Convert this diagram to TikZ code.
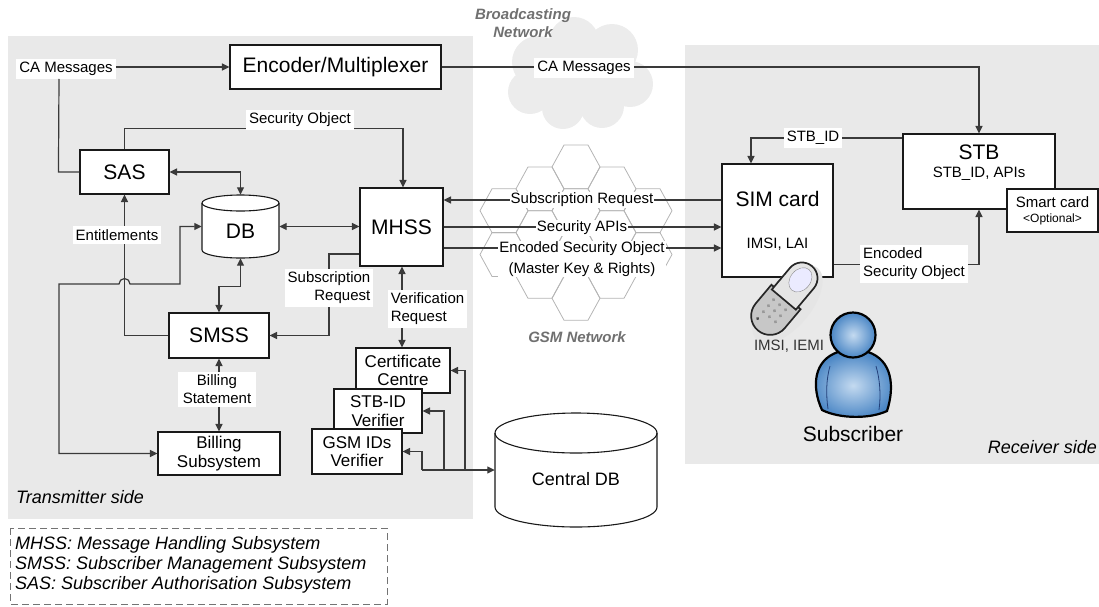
\documentclass[tikz,border=0pt]{standalone}
\usepackage{fontspec}
\setmainfont{Liberation Sans}
\usetikzlibrary{arrows.meta,calc}
\definecolor{panel}{HTML}{E9E9E9}
\definecolor{cloudgray}{HTML}{ECECEC}
\definecolor{wire}{HTML}{3A3A3A}
\definecolor{hexline}{HTML}{B4B4B4}
\definecolor{netgray}{HTML}{707070}
\definecolor{personblue}{HTML}{4A86C5}
\definecolor{personlight}{HTML}{C4DAF0}
\definecolor{personline}{HTML}{23407A}
\begin{document}
\begin{tikzpicture}[x=1pt,y=-1pt,
  font=\fontsize{15}{18}\selectfont,
  box/.style={draw=black!90, fill=white, line width=1.1pt, inner sep=0pt, align=center},
  wire/.style={draw=wire, line width=1.2pt},
  tipend/.style={-{Triangle[length=7.5pt,width=7pt]}},
  tipboth/.style={{Triangle[length=7.5pt,width=7pt]}-{Triangle[length=7.5pt,width=7pt]}},
  tipstart/.style={{Triangle[length=7.5pt,width=7pt]}-},
  lbl/.style={fill=white, inner sep=3pt, align=center},
  tightlbl/.style={fill=white, inner sep=1pt, align=center},
  big/.style={font=\fontsize{21}{25}\selectfont},
  mid/.style={font=\fontsize{17}{18.5}\selectfont},
  small/.style={font=\fontsize{15}{18}\selectfont},
  note/.style={font=\fontsize{18}{20}\selectfont\itshape},
  net/.style={font=\fontsize{15}{18}\selectfont\bfseries\itshape, text=netgray},
  hex/.style={draw=hexline, line width=0.8pt},
]
\useasboundingbox (0,0) rectangle (1099,606);

% side panels
\fill[panel] (8,36) rectangle (473,519);
\fill[panel] (685,45) rectangle (1099,464);

% broadcasting network cloud, built from overlapping puffs
\fill[cloudgray] (580,74) ellipse[x radius=48pt, y radius=40pt]
  (538,62) circle[radius=26pt] (574,42) circle[radius=25pt] (612,50) circle[radius=26pt]
  (630,84) circle[radius=23pt] (602,106) circle[radius=22pt] (563,108) circle[radius=21pt]
  (530,92) circle[radius=22pt];
\node[net, align=center] (bnet) at (523,23) {Broadcasting\\Network};

% GSM network honeycomb
\foreach \cx/\cy in {576/166.9, 576/210.7, 576/254.5, 576/298.3,
                     540/188.8, 540/232.6, 540/276.4,
                     612/188.8, 612/232.6, 612/276.4,
                     504/210.7, 504/254.5, 648/210.7, 648/254.5}
  \draw[hex] (\cx-24,\cy) -- (\cx-12,\cy-21.9) -- (\cx+12,\cy-21.9) -- (\cx+24,\cy)
             -- (\cx+12,\cy+21.9) -- (\cx-12,\cy+21.9) -- cycle;
\node[net] (gnet) at (577,337) {GSM Network};

% databases
\path[box] (202,203) -- (202,250) arc[start angle=180, end angle=360, x radius=38.5pt, y radius=8pt]
  -- (279,203) arc[start angle=0, end angle=180, x radius=38.5pt, y radius=8pt] -- cycle;
\draw[draw=black!90, line width=1.1pt] (202,203) arc[start angle=180, end angle=360, x radius=38.5pt, y radius=8pt];
\node[minimum width=77pt, minimum height=63pt, inner sep=0pt] (db) at (240.5,226.5) {};
\node[big] (dbtxt) at (240.5,231) {DB};

\path[box] (495,433) -- (495,507) arc[start angle=180, end angle=360, x radius=81pt, y radius=20pt]
  -- (657,433) arc[start angle=0, end angle=180, x radius=81pt, y radius=20pt] -- cycle;
\draw[draw=black!90, line width=1.1pt] (495,433) arc[start angle=180, end angle=360, x radius=81pt, y radius=20pt];
\node[minimum width=162pt, minimum height=114pt, inner sep=0pt] (cdb) at (576,470) {};
\node[font=\fontsize{18}{21}\selectfont] (cdbtxt) at (576,479) {Central DB};

% transmitter side blocks
\node[box, big, minimum width=211pt, minimum height=44pt] (enc) at (335.5,67) {Encoder/Multiplexer};
\node[box, big, minimum width=89pt, minimum height=44pt] (sas) at (124.5,172) {SAS};
\node[box, big, minimum width=83pt, minimum height=78pt] (mhss) at (401.5,227) {MHSS};
\node[box, big, minimum width=100pt, minimum height=45pt] (smss) at (219,335.5) {SMSS};
\node[box, mid, minimum width=122pt, minimum height=43pt] (bill) at (219,453.5) {Billing\\Subsystem};
\node[box, mid, minimum width=94pt, minimum height=45pt] (cert) at (403,370.5) {Certificate\\Centre};
\node[box, mid, minimum width=88pt, minimum height=44pt] (stbv) at (378,411) {STB-ID\\Verifier};
\node[box, mid, minimum width=90pt, minimum height=45pt] (gsmv) at (357,451.5) {GSM IDs\\Verifier};

% receiver side blocks
\node[box, minimum width=111pt, minimum height=113pt] (sim) at (777.5,220.5) {};
\node[big] (simname) at (777.5,199) {SIM card};
\node[small] (simid) at (777.5,244) {IMSI, LAI};
\node[box, minimum width=152pt, minimum height=75pt] (stb) at (979,171.5) {};
\node[big] (stbname) at (979,152) {STB};
\node[small] (stbid) at (979,174) {STB\_ID, APIs};
\node[box, minimum width=91pt, minimum height=43pt] (smart) at (1052.5,210.5) {};
\node[small] (smartname) at (1052.5,202) {Smart card};
\node[font=\fontsize{12}{14}\selectfont] (smartopt) at (1052.5,219) {\textless Optional\textgreater};

% connectors on the transmitter side
\node[lbl] (cam1) at (66,69) {CA Messages};
\draw[wire, tipend] (cam1.east |- enc.west) -- (enc.west);
\draw[wire] (sas.west) -- ++(-21,0) -- ([xshift=-7pt]cam1.south);
\draw[wire, tipend] (sas.north) -- ++(0,-21) -| ([xshift=1.5pt]mhss.north);
\node[lbl] (secobj) at (300,120) {Security Object};
\draw[wire, tipboth] (sas.east) -| (db.north);
\draw[wire, tipboth] (db.east) -- (db.east -| mhss.west);
\draw[wire, tipboth] (db.south) |- ([yshift=26pt]smss.north) -- (smss.north);
\draw[wire, tipend] (smss.west) -| (sas.south);
\node[lbl] (entl) at (117,235) {Entitlements};
\draw[wire, tipboth] (db.west) -| (180,284) -- (130,284) arc[start angle=0, end angle=180, radius=5.5pt]
  -- (59,284) |- (bill.west);
\draw[wire, tipboth] (smss.south) -- (bill.north);
\node[lbl, inner xsep=5pt] (billst) at (217,389) {Billing\\Statement};
\coordinate (srbend) at (329,254);
\draw[wire, tipend] ($(mhss.west)+(0,27)$) -- (srbend) |- (smss.east);
\node[lbl, align=right] (subreq) at (329,288) {Subscription\\Request};
\draw[wire, tipboth] ([xshift=0.5pt]mhss.south) -- ([xshift=0.5pt]mhss.south |- cert.north);
\node[lbl, align=left] (verreq) at (427.5,308.5) {Verification\\Request};

% central database links
\coordinate (j1) at (422,470);
\coordinate (j2) at (444,470);
\coordinate (j3) at (465,470);
\draw[wire, tipend] (j1) -- (cdb.west);
\draw[wire, tipend] (j1) |- (gsmv.east);
\draw[wire, tipend] (j2) |- (stbv.east);
\draw[wire, tipend] (j3) |- (cert.east);

% links across the GSM network
\coordinate (m1) at ($(mhss.east)+(0,-27)$);
\coordinate (m3) at ($(mhss.east)+(0,21)$);
\draw[wire, tipstart] (m1) -- (m1 -| sim.west);
\draw[wire, tipend] (mhss.east) -- (mhss.east -| sim.west);
\draw[wire, tipend] (m3) -- (m3 -| sim.west);
\node[tightlbl] (lsubreq) at (582,200) {Subscription Request};
\node[tightlbl] (lsecapi) at (582,228) {Security APIs};
\node[tightlbl] (lencobj) at (582,259) {Encoded Security Object\\[3pt](Master Key \& Rights)};

% broadcast link and receiver links
\draw[wire, tipend] (enc.east) -| (stb.north);
\node[lbl] (cam2) at (584,68) {CA Messages};
\coordinate (s1) at ($(stb.west)+(0,-33.5)$);
\coordinate (s2) at ($(sim.north)+(-26.5,0)$);
\draw[wire, tipend] (s1) -| (s2);
\node[lbl] (stbidl) at (813,138) {STB\_ID};
\coordinate (e1) at ($(sim.east)+(0,44)$);
\draw[wire, tipend] (e1) -| (stb.south);
\node[lbl, align=left] (encr) at (914,264) {Encoded\\Security Object};

% mobile handset
\begin{scope}[shift={(786,297)}, rotate=-40, scale=1.12]
  \fill[black!10] (5,4) ellipse[x radius=21pt, y radius=42pt];
  \draw[line width=1.7pt, draw=black!85, fill=black!22] (-17,0) -- (-17,22)
    arc[start angle=180, end angle=360, radius=17pt] -- (17,0) -- cycle;
  \draw[line width=1.7pt, draw=black!85, fill=black!10] (-14,3) -- (-14,-22)
    arc[start angle=180, end angle=0, radius=14pt] -- (14,3) -- cycle;
  \draw[draw=black!45, fill=blue!8] (0,-20) ellipse[x radius=9pt, y radius=12pt];
  \foreach \kx in {-7,0,7} \foreach \ky in {9,16,23}
    \fill[black!40] (\kx,\ky) circle[radius=1.6pt];
  \fill[black!70] (-7,31) circle[radius=1.5pt];
\end{scope}
\node[font=\fontsize{15}{18}\selectfont, text=black!80] (imei) at (789,346) {IMSI, IEMI};

% subscriber figure
\shadedraw[inner color=personlight, outer color=personblue, draw=black, line width=2.2pt]
  (822,410) .. controls (811,386) and (814,360) .. (838,352) -- (868,352)
  .. controls (892,360) and (895,386) .. (887,411) .. controls (870,419) and (840,419) .. (822,410) -- cycle;
\draw[personline, line width=0.8pt] (830,366) .. controls (826,380) and (826,395) .. (828,409);
\draw[personline, line width=0.8pt] (876,366) .. controls (880,380) and (881,395) .. (879,410);
\shadedraw[inner color=personlight, outer color=personblue, draw=black, line width=2.2pt]
  (853,335) circle[radius=22.5pt];
\node[big] (subname) at (853,434) {Subscriber};

% side captions and legend
\node[note, anchor=west, inner sep=0pt] (txside) at (16,497) {Transmitter side};
\node[note, anchor=east, inner sep=0pt] (rxside) at (1097,447) {Receiver side};
\draw[draw=black!55, line width=1pt, dash pattern=on 7pt off 4pt] (10,528) rectangle (387,604);
\node[note, anchor=west, align=left, inner sep=0pt] (legend) at (15,565)
  {MHSS: Message Handling Subsystem\\SMSS: Subscriber Management Subsystem\\SAS: Subscriber Authorisation Subsystem};
\end{tikzpicture}
\end{document}
